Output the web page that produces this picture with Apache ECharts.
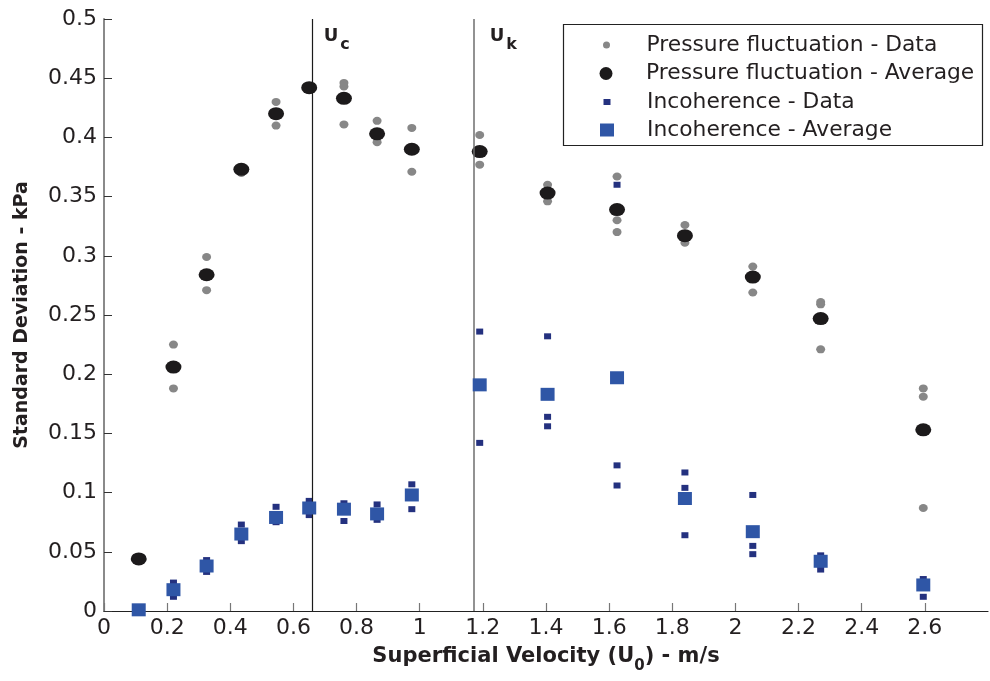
<!DOCTYPE html>
<html>
<head>
<meta charset="utf-8">
<script src="https://cdn.jsdelivr.net/npm/echarts@6/dist/echarts.min.js"></script>
<style>
html,body{margin:0;padding:0;background:#fff;}
#chart{width:990px;height:681px;}
</style>
</head>
<body>
<div id="chart"></div>
<script>
// ---- data ----
const velocities = [0.11, 0.22, 0.325, 0.435, 0.545, 0.65, 0.76, 0.865, 0.975, 1.19, 1.405, 1.625, 1.84, 2.055, 2.27, 2.595];
const pressureAvg = [0.044, 0.206, 0.284, 0.373, 0.420, 0.442, 0.433, 0.403, 0.390, 0.388, 0.353, 0.339, 0.317, 0.282, 0.247, 0.153];
const pressureData = [
  [0.044, 0.043], [0.225, 0.188], [0.299, 0.271], [0.374, 0.370], [0.430, 0.410], [0.443, 0.440],
  [0.446, 0.443, 0.411], [0.414, 0.396], [0.408, 0.371], [0.402, 0.377], [0.360, 0.346],
  [0.367, 0.330, 0.320], [0.326, 0.311], [0.291, 0.269], [0.261, 0.259, 0.221], [0.188, 0.181, 0.087]
];
const incoherenceAvg = [0.001, 0.018, 0.038, 0.065, 0.079, 0.087, 0.086, 0.082, 0.098, 0.191, 0.183, 0.197, 0.095, 0.067, 0.042, 0.022];
const incoherenceData = [
  [0.001, 0.0], [0.024, 0.012], [0.043, 0.033], [0.073, 0.059], [0.088, 0.075], [0.093, 0.081],
  [0.091, 0.076], [0.090, 0.077], [0.107, 0.086], [0.236, 0.142], [0.232, 0.164, 0.156],
  [0.360, 0.123, 0.106], [0.117, 0.104, 0.064], [0.098, 0.055, 0.048], [0.047, 0.035], [0.027, 0.012]
];
const xTicks = [0, 0.2, 0.4, 0.6, 0.8, 1, 1.2, 1.4, 1.6, 1.8, 2, 2.2, 2.4, 2.6];
const transitionLines = [
  { name: 'c', x: 0.664 },
  { name: 'k', x: 1.168 }
];
const seriesNames = ['Pressure fluctuation - Data', 'Pressure fluctuation - Average', 'Incoherence - Data', 'Incoherence - Average'];

// ---- build ----
const FONT = 'DejaVu Sans';
const TXT = '#231f20';
const pts = (xs, ys) => xs.map((x, i) => [x, ys[i]]);
const ptsMulti = (xs, yss) => xs.flatMap((x, i) => yss[i].map(v => [x, v]));

// legend layout (style only): icon centre x 607, text starts at 647
const legendRows = [
  { name: seriesNames[0], icon: 'circle', w: 8, h: 7, top: 34 },
  { name: seriesNames[1], icon: 'circle', w: 15, h: 13, top: 62.5 },
  { name: seriesNames[2], icon: 'rect', w: 7, h: 6, top: 91 },
  { name: seriesNames[3], icon: 'rect', w: 14, h: 13, top: 119 }
];
const labelDistances = [10, 17];

const chart = echarts.init(document.getElementById('chart'), null, { renderer: 'canvas' });
chart.setOption({
  animation: false,
  backgroundColor: '#fff',
  textStyle: { fontFamily: FONT },
  grid: { left: 104, right: 2, top: 19, bottom: 70, containLabel: false },
  xAxis: {
    type: 'value', min: 0, max: 2.8, interval: 0.2,
    name: '{b|Superficial Velocity (U}{s|0}{b|) - m/s}',
    nameLocation: 'middle', nameGap: 35,
    nameTextStyle: {
      rich: {
        b: { fontFamily: FONT, fontWeight: 'bold', fontSize: 21, color: TXT, verticalAlign: 'top', lineHeight: 24 },
        s: { fontFamily: FONT, fontWeight: 'bold', fontSize: 15, color: TXT, verticalAlign: 'top', lineHeight: 24, padding: [13, 0, 0, 0] }
      }
    },
    axisLine: { show: true, onZero: false, lineStyle: { color: '#222', width: 1.2 } },
    axisTick: { show: true, inside: true, length: 8, customValues: xTicks, lineStyle: { color: '#777', width: 1.2 } },
    axisLabel: { customValues: xTicks, color: TXT, fontFamily: FONT, fontSize: 22, margin: 6 },
    splitLine: { show: false }
  },
  yAxis: {
    type: 'value', min: 0, max: 0.5, interval: 0.05,
    name: 'Standard Deviation - kPa',
    nameLocation: 'middle', nameGap: 72,
    nameTextStyle: { fontFamily: FONT, fontWeight: 'bold', fontSize: 19, color: TXT },
    axisLine: { show: true, onZero: false, lineStyle: { color: '#8a8a8a', width: 2 } },
    axisTick: { show: true, inside: true, length: 8, lineStyle: { color: '#333', width: 1 } },
    axisLabel: { color: TXT, fontFamily: FONT, fontSize: 22, margin: 7 },
    splitLine: { show: false }
  },
  legend: legendRows.map(r => ({
    data: [{ name: r.name, icon: r.icon }], left: 607 - r.w / 2, top: r.top, orient: 'vertical', padding: 0,
    itemWidth: r.w, itemHeight: r.h, itemGap: 0, selectedMode: false,
    textStyle: { fontFamily: FONT, fontSize: 21.8, color: TXT, padding: [0, 0, 0, 647 - (607 + r.w / 2) - 5] }
  })),
  graphic: [{
    type: 'rect', shape: { x: 563.5, y: 24.5, width: 419, height: 121 },
    style: { fill: 'none', stroke: '#222', lineWidth: 1.2 }, z: 10, silent: true
  }],
  series: [
    {
      name: seriesNames[0], type: 'scatter', data: ptsMulti(velocities, pressureData),
      symbol: 'circle', symbolSize: [9, 8], itemStyle: { color: '#878787', opacity: 1 }, z: 2
    },
    {
      name: seriesNames[1], type: 'scatter', data: pts(velocities, pressureAvg),
      symbol: 'circle', symbolSize: [16, 13], itemStyle: { color: '#1c1a1b', opacity: 1 }, z: 3
    },
    {
      name: seriesNames[2], type: 'scatter', data: ptsMulti(velocities, incoherenceData),
      symbol: 'rect', symbolSize: [7, 6], itemStyle: { color: '#24317f', opacity: 1 }, z: 4
    },
    {
      name: seriesNames[3], type: 'scatter', data: pts(velocities, incoherenceAvg),
      symbol: 'rect', symbolSize: [14, 13], itemStyle: { color: '#2f56a6', opacity: 1 }, z: 5
    },
    {
      name: 'transitions', type: 'scatter', silent: true, z: 6,
      data: transitionLines.map((t, i) => ({ value: [t.x, 0.484], sub: t.name, label: { distance: labelDistances[i] } })),
      symbolSize: 0,
      itemStyle: { opacity: 1, color: TXT },
      label: {
        show: true, position: 'right', color: TXT, opacity: 1,
        formatter: p => '{u|U}{s|' + p.data.sub + '}',
        rich: {
          u: { fontFamily: FONT, fontWeight: 'bold', fontSize: 18, color: TXT, verticalAlign: 'top', lineHeight: 22 },
          s: { fontFamily: FONT, fontWeight: 'bold', fontSize: 16, color: TXT, verticalAlign: 'top', lineHeight: 22, padding: [10, 0, 0, 2] }
        }
      },
      markLine: {
        silent: true, symbol: 'none', label: { show: false },
        data: [
          { xAxis: transitionLines[0].x, lineStyle: { color: '#1a1a1a', width: 1.2, type: 'solid', opacity: 1 } },
          { xAxis: transitionLines[1].x, lineStyle: { color: '#6e6e6e', width: 1.5, type: 'solid', opacity: 1 } }
        ]
      }
    }
  ]
});
</script>
</body>
</html>
